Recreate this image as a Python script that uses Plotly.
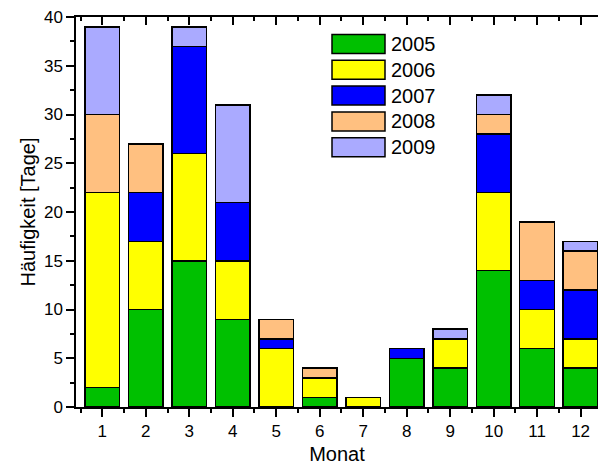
import plotly.graph_objects as go

months = list(range(1, 13))
month_labels = [str(m) for m in months]
years = ["2005", "2006", "2007", "2008", "2009"]
v2005 = [2, 10, 15, 9, 0, 1, 0, 5, 4, 14, 6, 4]
v2006 = [20, 7, 11, 6, 6, 2, 1, 0, 3, 8, 4, 3]
v2007 = [0, 5, 11, 6, 1, 0, 0, 1, 0, 6, 3, 5]
v2008 = [8, 5, 0, 0, 2, 1, 0, 0, 0, 2, 6, 4]
v2009 = [9, 0, 2, 10, 0, 0, 0, 0, 1, 2, 0, 1]
series = [v2005, v2006, v2007, v2008, v2009]
colors = ["#00C000", "#FFFF00", "#0000FF", "#FFC080", "#AAAAFF"]
y_ticks = [0, 5, 10, 15, 20, 25, 30, 35, 40]

FONT = "Arial, Liberation Sans, sans-serif"
fig = go.Figure()
for name, vals, col in zip(years, series, colors):
    fig.add_trace(go.Bar(x=months, y=vals, name=name, width=0.8,
                         marker=dict(color=col, line=dict(color="black", width=1.5)),
                         showlegend=False))
# invisible trace on top axis
fig.add_trace(go.Scatter(x=[1], y=[0], xaxis="x2", mode="markers",
                         marker=dict(opacity=0), showlegend=False, hoverinfo="skip"))

xr = [0.395, 12.4]
minor_x = [m + 0.5 for m in range(0, 13)]
fig.update_layout(
    width=598, height=465,
    margin=dict(l=76, r=0, t=17, b=58),
    paper_bgcolor="white", plot_bgcolor="white",
    barmode="stack", bargap=0.2,
    font=dict(family=FONT, size=17, color="black"),
    xaxis=dict(range=xr, tickvals=months, ticktext=month_labels,
               ticks="outside", ticklen=8, tickwidth=1.5, tickcolor="black",
               showline=True, linecolor="black", linewidth=1.5,
               showgrid=False, zeroline=False,
               minor=dict(tickvals=minor_x, ticks="outside", ticklen=4,
                          tickwidth=1.5, tickcolor="black", showgrid=False),
               title=dict(text="Monat", font=dict(size=20), standoff=8),
               tickfont=dict(size=17)),
    xaxis2=dict(range=xr, overlaying="x", side="top", anchor="y",
                tickvals=months, showticklabels=False,
                ticks="inside", ticklen=8, tickwidth=1.5, tickcolor="black",
                showline=True, linecolor="black", linewidth=1.5,
                showgrid=False, zeroline=False,
                minor=dict(tickvals=minor_x, ticks="inside", ticklen=4,
                           tickwidth=1.5, tickcolor="black", showgrid=False)),
    yaxis=dict(range=[0, 40], tickvals=y_ticks,
               ticks="outside", ticklen=8, tickwidth=1.5, tickcolor="black",
               showline=True, linecolor="black", linewidth=1.5,
               showgrid=False, zeroline=False,
               minor=dict(dtick=2.5, tick0=0, ticks="outside", ticklen=4,
                          tickwidth=1.5, tickcolor="black", showgrid=False),
               title=dict(text="Häufigkeit [Tage]", font=dict(size=20), standoff=3),
               tickfont=dict(size=17)),
)

# custom legend with large swatches
plot_l, plot_w, plot_b, plot_h = 76, 522, 407, 390
def px2x(px):
    return (px - plot_l) / plot_w
def px2y(py):
    return (plot_b - py) / plot_h
for i, (name, col) in enumerate(zip(years, colors)):
    cy = 44 + i * 25.8
    fig.add_shape(type="rect", xref="paper", yref="paper",
                  x0=px2x(332), x1=px2x(385), y0=px2y(cy + 9.5), y1=px2y(cy - 9.5),
                  fillcolor=col, line=dict(color="black", width=1.5))
    fig.add_annotation(xref="paper", yref="paper", x=px2x(389), y=px2y(cy),
                       text=name, showarrow=False, xanchor="left", yanchor="middle",
                       font=dict(size=20, family=FONT, color="black"))

fig.write_html("out.html")
